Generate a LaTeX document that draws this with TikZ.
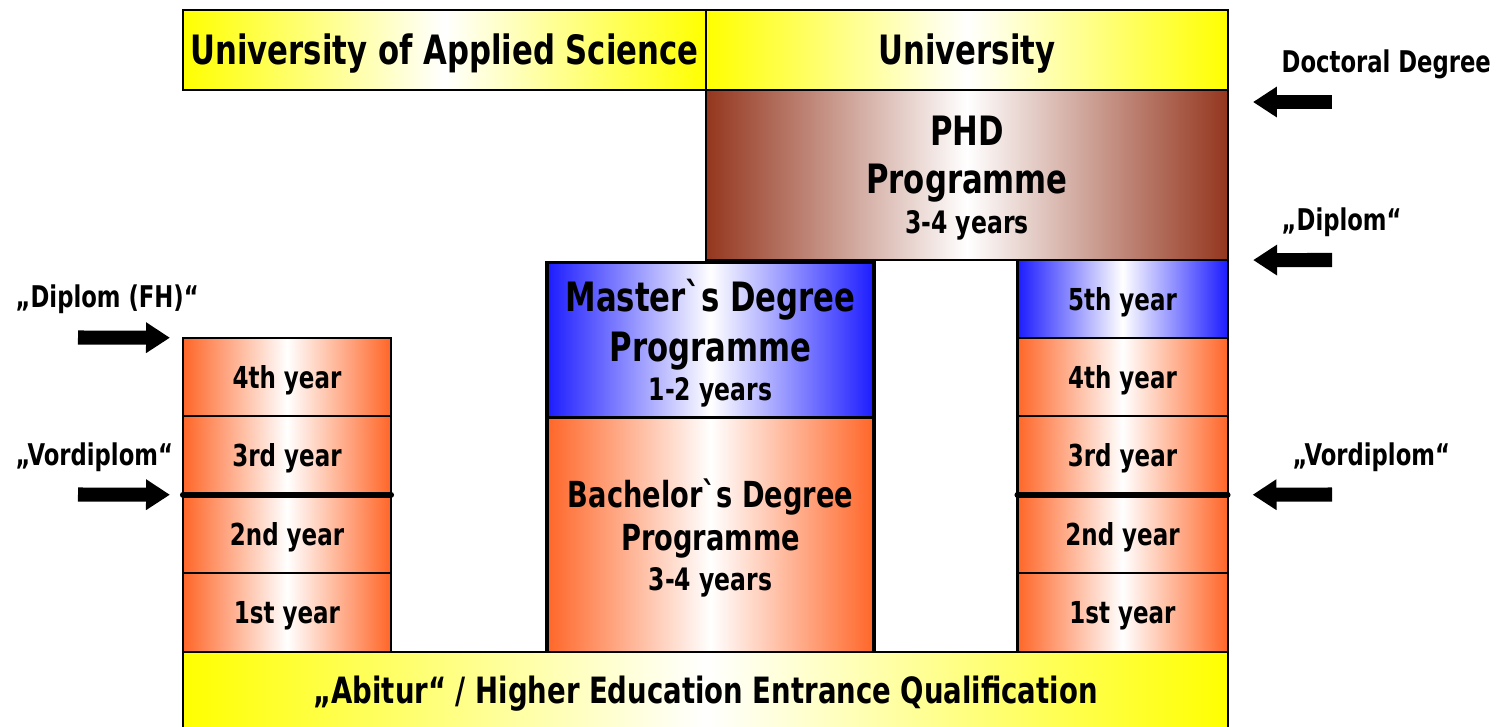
\documentclass[tikz,border=0pt]{standalone}
\usepackage{fontspec}
\usepackage{tikz}
\usetikzlibrary{arrows.meta}
\newfontfamily\chartfont{DejaVu Sans}[FakeStretch=0.76]
\definecolor{barYellow}{RGB}{255,255,0}
\definecolor{yearOrange}{RGB}{255,102,40}
\definecolor{masterBlue}{RGB}{28,28,255}
\definecolor{phdBrown}{RGB}{148,54,30}

\begin{document}
\begin{tikzpicture}[x=0.01cm, y=-0.01cm,
    box/.style={draw=black, line width=0.6pt, inner sep=0pt, outer sep=0pt, align=center, font=\chartfont\bfseries},
    shadebox/.style={box, left color=#1, right color=#1, middle color=white},
    titlebar/.style={shadebox=barYellow, minimum height=0.8cm, font=\chartfont\bfseries\fontsize{11.5}{13.7}\selectfont, text height=8.4pt, text depth=0pt},
    yearbox/.style={shadebox=#1, minimum width=2.1cm, minimum height=0.785cm, font=\chartfont\bfseries\fontsize{8.6}{10}\selectfont, text height=6.3pt, text depth=0pt},
    yearbox/.default=yearOrange,
    sidelabel/.style={anchor=base west, inner sep=0pt, font=\chartfont\bfseries\fontsize{8.5}{10}\selectfont},
    blockarrow/.style={line width=4pt, -{Triangle[length=6.8pt, width=8.3pt]}},
    vordiplomline/.style={line width=1.7pt, line cap=round}
  ]
  \useasboundingbox (0,0) rectangle (1497,726);

  % top bars
  \node [titlebar, minimum width=5.23cm] (uas) at (444.5, 50) {University of Applied Science};
  \node [titlebar, minimum width=5.22cm] (uni) at (967, 50) {University};

  % left column (university of applied science)
  \node [yearbox, minimum width=2.08cm] (l1) at (287, 612.5) {1st year};
  \node [yearbox, minimum width=2.08cm] (l2) at (287, 534) {2nd year};
  \node [yearbox, minimum width=2.08cm] (l3) at (287, 455.5) {3rd year};
  \node [yearbox, minimum width=2.08cm] (l4) at (287, 377) {4th year};

  % right column (university)
  \node [yearbox] (r1) at (1122.5, 612.5) {1st year};
  \node [yearbox] (r2) at (1122.5, 534) {2nd year};
  \node [yearbox] (r3) at (1122.5, 455.5) {3rd year};
  \node [yearbox] (r4) at (1122.5, 377) {4th year};
  \node [yearbox=masterBlue] (r5) at (1122.5, 299) {5th year};

  % phd
  \node [shadebox=phdBrown, minimum width=5.22cm, minimum height=1.7cm, text depth=0pt,
         font=\chartfont\bfseries\fontsize{11.5}{13.7}\selectfont] (phd) at (967, 175)
        {PHD\\Programme\\[-2.3pt]{\fontsize{8.8}{10}\selectfont 3-4 years}};

  % bachelor and master
  \node [shadebox=yearOrange, line width=1pt, minimum width=3.27cm, minimum height=2.37cm, text depth=0pt,
         font=\chartfont\bfseries\fontsize{10.2}{12.2}\selectfont] (bachelor) at (710.5, 535)
        {Bachelor`s Degree\\Programme\\[-0.8pt]{\fontsize{8.8}{10}\selectfont 3-4 years}};
  \node [shadebox=masterBlue, line width=1pt, minimum width=3.27cm, minimum height=1.55cm, text depth=0pt,
         font=\chartfont\bfseries\fontsize{11.5}{14.2}\selectfont] (master) at (710.5, 340)
        {Master`s Degree\\Programme\\[-3.1pt]{\fontsize{8.8}{10}\selectfont 1-2 years}};

  % bottom bar
  \node [shadebox=barYellow, minimum width=10.45cm, minimum height=0.76cm,
         font=\chartfont\bfseries\fontsize{10.3}{12}\selectfont, text height=7.5pt, text depth=0pt] (abitur) at (705.5, 690)
        {„Abitur“ / Higher Education Entrance Qualification};

  % vordiplom marks
  \draw [vordiplomline] (l2.north west) -- (l2.north east);
  \draw [vordiplomline] (r2.north west) -- (r2.north east);

  % degrees on the left
  \node [sidelabel] (fhlabel) at (15, 307) {„Diplom (FH)“};
  \node [sidelabel] (lvlabel) at (15, 465) {„Vordiplom“};
  \coordinate (fhtail) at (78, 337.5);
  \coordinate (lvtail) at (78, 494.5);
  \draw [blockarrow] (fhtail) -- ([xshift=-0.13cm]l4.north west);
  \draw [blockarrow] (lvtail) -- ([xshift=-0.13cm]l2.north west);

  % degrees on the right
  \node [sidelabel] (doclabel) at (1281, 72) {Doctoral Degree};
  \node [sidelabel] (dilabel) at (1281, 230) {„Diplom“};
  \node [sidelabel] (rvlabel) at (1292, 465) {„Vordiplom“};
  \coordinate (doctail) at (1332, 102);
  \coordinate (doctip) at (1253, 102);
  \coordinate (ditail) at (1332, 260);
  \coordinate (rvtail) at (1332, 494.5);
  \draw [blockarrow] (doctail) -- (doctip);
  \draw [blockarrow] (ditail) -- ([xshift=0.25cm]phd.south east);
  \draw [blockarrow] (rvtail) -- ([xshift=0.25cm]r2.north east);
\end{tikzpicture}
\end{document}
